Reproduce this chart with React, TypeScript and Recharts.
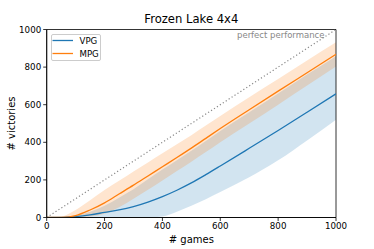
import React from 'react';
import {
  ComposedChart,
  Area,
  Line,
  XAxis,
  YAxis,
  ReferenceArea,
} from 'recharts';

const games = [0, 50, 100, 150, 200, 250, 300, 350, 400, 450, 500, 550, 600, 700, 800, 900, 1000];
const vpgMean = [0, 0, 5, 14, 27, 40, 58, 82, 111, 145, 184, 228, 274, 368, 463, 560, 658];
const vpgLow = [0, 0, 0, 0, 0, 0, 0, 0, 5, 30, 62, 97, 135, 214, 304, 410, 520];
const vpgHigh = [0, 2, 10, 30, 62, 105, 150, 203, 255, 305, 355, 407, 460, 560, 660, 760, 858];
const mpgMean = [0, 0, 10, 40, 78, 125, 172, 221, 270, 319, 369, 421, 473, 573, 672, 770, 868];
const mpgLow = [0, 0, 0, 5, 20, 55, 100, 148, 197, 247, 297, 348, 400, 500, 600, 702, 803];
const mpgHigh = [0, 5, 40, 92, 146, 195, 245, 293, 342, 390, 438, 489, 540, 640, 737, 835, 932];
const ticks = [0, 200, 400, 600, 800, 1000];

const data = games.map((g, i) => ({
  g,
  vpg: vpgMean[i],
  mpg: mpgMean[i],
  vpgBand: [vpgLow[i], vpgHigh[i]],
  mpgBand: [mpgLow[i], mpgHigh[i]],
  perfect: g,
}));

const FONT = '"DejaVu Sans", sans-serif';
const BLUE = '#1f77b4';
const ORANGE = '#ff7f0e';

export default function App() {
  return (
    <div style={{ position: 'absolute', left: 0, top: 0, width: 374, height: 249, background: '#fff', fontFamily: FONT }}>
      <ComposedChart
        width={374}
        height={249}
        data={data}
        margin={{ top: 29.5, right: 38, left: 0, bottom: 0 }}
      >
        <XAxis
          type="number"
          dataKey="g"
          domain={[0, 1000]}
          ticks={ticks}
          height={31.5}
          stroke="#000"
          strokeWidth={0.8}
          tickSize={3.5}
          tickMargin={1.5}
          tickLine={{ stroke: '#000', strokeWidth: 0.8 }}
          tick={{ fill: '#000', fontSize: 8.7, fontFamily: FONT }}
          allowDataOverflow
        />
        <YAxis
          type="number"
          domain={[0, 1000]}
          ticks={ticks}
          width={46.7}
          stroke="#000"
          strokeWidth={0.8}
          tickSize={3.5}
          tickMargin={2}
          tickLine={{ stroke: '#000', strokeWidth: 0.8 }}
          tick={{ fill: '#000', fontSize: 8.7, fontFamily: FONT }}
          allowDataOverflow
        />
        <Line
          dataKey="perfect"
          type="linear"
          stroke="#888"
          strokeWidth={1.2}
          strokeDasharray="1.2 2.3"
          dot={false}
          isAnimationActive={false}
        />
        <Area
          dataKey="vpgBand"
          type="monotone"
          stroke="none"
          fill={BLUE}
          fillOpacity={0.2}
          isAnimationActive={false}
        />
        <Area
          dataKey="mpgBand"
          type="monotone"
          stroke="none"
          fill={ORANGE}
          fillOpacity={0.2}
          isAnimationActive={false}
        />
        <Line
          dataKey="vpg"
          type="monotone"
          stroke={BLUE}
          strokeWidth={1.3}
          dot={false}
          isAnimationActive={false}
        />
        <Line
          dataKey="mpg"
          type="monotone"
          stroke={ORANGE}
          strokeWidth={1.3}
          dot={false}
          isAnimationActive={false}
        />
        <ReferenceArea
          x1={0}
          x2={1000}
          y1={0}
          y2={1000}
          fill="none"
          stroke="#000"
          strokeWidth={0.8}
          fillOpacity={0}
        />
      </ComposedChart>

      <div style={{ position: 'absolute', left: 46.7, width: 289.3, top: 12, textAlign: 'center', fontSize: 11.6, lineHeight: '14px', color: '#000', whiteSpace: 'nowrap' }}>
        Frozen Lake 4x4
      </div>
      <div style={{ position: 'absolute', left: 46.7, width: 289.3, top: 233, textAlign: 'center', fontSize: 10, lineHeight: '13px', color: '#000', whiteSpace: 'nowrap' }}>
        # games
      </div>
      <div style={{ position: 'absolute', left: 11, top: 123.5, width: 0, height: 0 }}>
        <div style={{ position: 'absolute', left: -40, top: -6.5, width: 80, textAlign: 'center', fontSize: 10, lineHeight: '13px', transform: 'rotate(-90deg)', whiteSpace: 'nowrap', color: '#000' }}>
          # victories
        </div>
      </div>
      <div style={{ position: 'absolute', right: 374 - 324.5, top: 30, fontSize: 8.5, lineHeight: '11px', color: '#888', whiteSpace: 'nowrap' }}>
        perfect performance
      </div>
      <div style={{ position: 'absolute', left: 50.5, top: 34, width: 50, height: 27, boxSizing: 'border-box', border: '0.8px solid #ccc', borderRadius: 2, background: 'rgba(255,255,255,0.8)' }}>
        <svg width={50} height={27} style={{ position: 'absolute', left: -0.8, top: -0.8 }}>
          <line x1={1.5} x2={22} y1={6.5} y2={6.5} stroke={BLUE} strokeWidth={1.3} />
          <line x1={1.5} x2={22} y1={19.5} y2={19.5} stroke={ORANGE} strokeWidth={1.3} />
          <text x={28.5} y={6.5} dy="0.35em" fontSize={8.6} fontFamily={FONT} fill="#000">VPG</text>
          <text x={28.5} y={19.5} dy="0.35em" fontSize={8.6} fontFamily={FONT} fill="#000">MPG</text>
        </svg>
      </div>
    </div>
  );
}
